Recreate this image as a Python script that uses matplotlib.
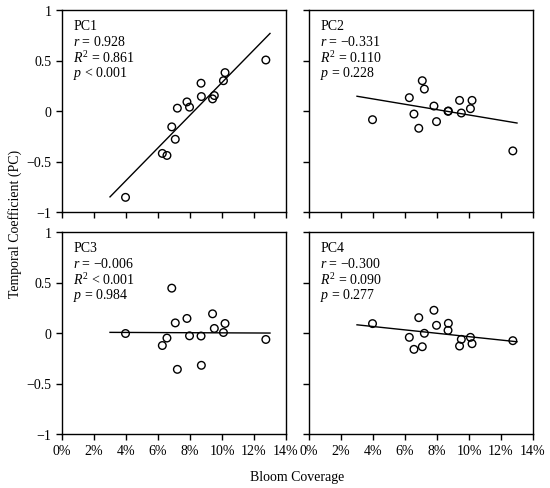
import matplotlib
matplotlib.use("Agg")
import matplotlib.pyplot as plt
from matplotlib.ticker import FuncFormatter
import numpy as np

plt.rcParams['font.family'] = ['Liberation Serif', 'DejaVu Serif']
plt.rcParams['font.size'] = 10
plt.rcParams['mathtext.fontset'] = 'custom'
plt.rcParams['mathtext.rm'] = 'Liberation Serif'
plt.rcParams['mathtext.it'] = 'Liberation Serif:italic'

# bloom coverage (%) per year, shared by all panels
coverage = [3.97, 6.27, 6.56, 6.86, 7.08, 7.21, 7.81, 7.97, 8.69, 8.71, 9.41, 9.52, 10.09, 10.19, 12.74]

pc1 = [-0.855, -0.42, -0.44, -0.157, -0.28, 0.028, 0.09, 0.038, 0.275, 0.143, 0.12, 0.153, 0.30, 0.38, 0.505]
pc2 = [-0.086, 0.132, -0.03, -0.171, 0.30, 0.217, 0.049, -0.105, -0.003, 0.0, 0.105, -0.02, 0.023, 0.105, -0.395]
pc3 = [-0.005, -0.124, -0.05, 0.444, 0.10, -0.36, 0.144, -0.028, -0.03, -0.32, 0.19, 0.045, 0.005, 0.094, -0.064]
pc4 = [0.093, -0.043, -0.162, 0.152, -0.136, -0.003, 0.225, 0.076, 0.026, 0.096, -0.129, -0.063, -0.043, -0.106, -0.076]

names = ["PC1", "PC2", "PC3", "PC4"]
r_text = ["0.928", "-0.331", "-0.006", "-0.300"]
r2_text = ["= 0.861", "= 0.110", "< 0.001", "= 0.090"]
p_text = ["< 0.001", "= 0.228", "= 0.984", "= 0.277"]

fit_range = [3, 13]


def main():
    fig = plt.figure(figsize=(5.5, 4.89), dpi=100)
    W, H = 550, 489
    lefts = [62, 309]
    width = 224
    tops = [11, 233]
    height = 202
    series = [pc1, pc2, pc3, pc4]
    x = np.array(coverage)
    for i, y in enumerate(series):
        row, col = divmod(i, 2)
        ax = fig.add_axes([lefts[col] / W, 1 - (tops[row] + height) / H, width / W, height / H])
        y = np.array(y)
        slope, icpt = np.polyfit(x, y, 1)
        xs = np.array(fit_range)
        ax.plot(xs, slope * xs + icpt, color='black', linewidth=1.0)
        ax.scatter(x, y, s=30, facecolors='none', edgecolors='black', linewidths=1.0, zorder=3)
        ax.set_xlim(0, 14)
        ax.set_ylim(-1, 1)
        ax.set_xticks(range(0, 15, 2))
        ax.set_yticks([-1, -0.5, 0, 0.5, 1])
        ax.tick_params(direction='out', length=4, width=1, labelsize=10)
        ax.xaxis.set_major_formatter(FuncFormatter(lambda v, _: f"{v:.0f}%"))
        ax.yaxis.set_major_formatter(FuncFormatter(lambda v, _: f"{v:g}".replace("-", "\u2212")))
        if row == 0:
            ax.set_xticklabels([])
        if col == 1:
            ax.set_yticklabels([])
        for sp in ax.spines.values():
            sp.set_linewidth(1.0)
        lines = [names[i],
                 r"$r$ = " + r_text[i].replace("-", "\u2212"),
                 r"$R^{2}$ " + r2_text[i],
                 r"$p$ " + p_text[i]]
        for k, t in enumerate(lines):
            ax.text(0.05, 0.955 - k * 0.074, t, transform=ax.transAxes,
                    ha='left', va='top', fontsize=10)

    fig.text(15 / W, 1 - 224 / H, "Temporal Coefficient (PC)", rotation=90,
             ha='center', va='center', fontsize=10)
    fig.text(297 / W, 1 - 478 / H, "Bloom Coverage", ha='center', va='center', fontsize=10)
    fig.savefig("out.png", dpi=100)


if __name__ == '__main__':
    main()
